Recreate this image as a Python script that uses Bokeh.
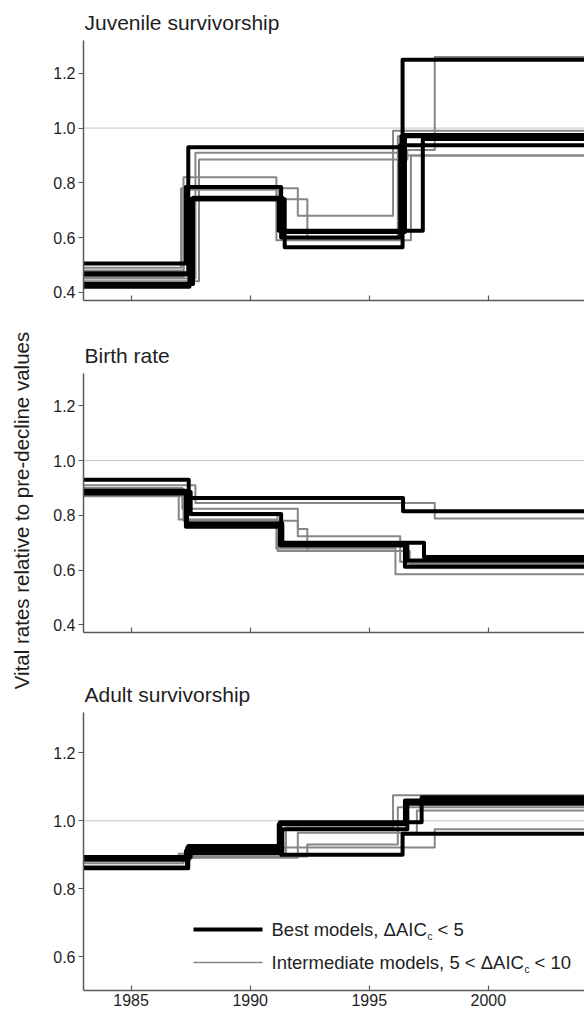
from bokeh.plotting import figure
from bokeh.layouts import column, row
from bokeh.models import Range1d, FixedTicker, PrintfTickFormatter, Span, Label, Arrow
from bokeh.embed import file_html
from bokeh.resources import INLINE

# ---------------- data ----------------
x_start = 1983.0
x_end = 2004.04
year_ticks = [1985, 1990, 1995, 2000]
panel_titles = ["Juvenile survivorship", "Birth rate", "Adult survivorship"]
y_label = "Vital rates relative to pre-decline values"
legend_best = ["Best models, \u0394AIC", "c", "< 5"]
legend_inter = ["Intermediate models, 5 < \u0394AIC", "c", "< 10"]

# Juvenile survivorship: change-point years and levels of each step model
juv_best_breaks = [[1987.45, 1991.45, 1996.4],
                   [1987.4, 1996.35],
                   [1987.3, 1991.3, 1996.3],
                   [1987.5, 1991.2, 1997.25],
                   [1987.6, 1991.35, 1996.5]]
juv_best_values = [[0.42, 0.74, 0.565, 1.25],
                   [0.465, 0.93, 0.97],
                   [0.505, 0.785, 0.60, 0.937],
                   [0.47, 0.74, 0.625, 0.96],
                   [0.43, 0.745, 0.62, 0.975]]
juv_int_breaks = [[1987.1, 1992.0, 1996.0],
                  [1987.7, 1996.5],
                  [1987.85, 1996.6, 1997.75],
                  [1987.2, 1991.1, 1996.75],
                  [1987.2, 1991.2, 1992.4, 1996.2]]
juv_int_values = [[0.49, 0.78, 0.68, 0.99],
                  [0.45, 0.91, 0.90],
                  [0.44, 0.885, 0.92, 1.26],
                  [0.48, 0.82, 0.59, 0.90],
                  [0.455, 0.775, 0.74, 0.595, 0.97]]

# Birth rate
birth_best_breaks = [[1987.42, 1996.42],
                     [1987.5, 1991.3, 1997.3],
                     [1987.3, 1991.25, 1996.5],
                     [1987.35, 1991.35, 1996.6]]
birth_best_values = [[0.93, 0.863, 0.815],
                     [0.885, 0.805, 0.70, 0.648],
                     [0.89, 0.758, 0.69, 0.612],
                     [0.88, 0.77, 0.695, 0.635]]
birth_int_breaks = [[1987.7, 1997.75],
                    [1987.15, 1992.0, 1996.3],
                    [1987.0, 1991.1, 1996.1],
                    [1987.2, 1992.0, 1992.4, 1996.5],
                    [1987.3, 1991.15, 1996.7]]
birth_int_values = [[0.91, 0.845, 0.788],
                    [0.90, 0.824, 0.724, 0.63],
                    [0.875, 0.785, 0.679, 0.585],
                    [0.895, 0.78, 0.75, 0.67, 0.625],
                    [0.87, 0.80, 0.67, 0.62]]

# Adult survivorship
adult_best_breaks = [[1987.4, 1991.25, 1997.2],
                     [1987.3, 1991.3, 1996.4],
                     [1987.35, 1991.2, 1996.5],
                     [1987.5, 1991.35, 1996.6]]
adult_best_values = [[0.86, 0.926, 0.996, 1.069],
                     [0.885, 0.911, 0.90, 0.962],
                     [0.862, 0.92, 0.99, 1.06],
                     [0.893, 0.905, 0.975, 1.05]]
adult_int_breaks = [[1987.0, 1991.5, 1996.0],
                    [1987.5, 1992.0, 1997.0],
                    [1987.6, 1991.2, 1997.75],
                    [1987.2, 1992.4, 1996.2]]
adult_int_values = [[0.894, 0.903, 0.98, 1.075],
                    [0.885, 0.891, 0.965, 1.03],
                    [0.89, 0.90, 0.921, 0.975],
                    [0.875, 0.895, 0.93, 1.04]]

y_ticks_upper = [0.4, 0.6, 0.8, 1.0, 1.2]
y_ticks_lower = [0.6, 0.8, 1.0, 1.2]
reference_level = 1.0

# ---------------- styling ----------------
FONT = "Liberation Sans, Arial, Helvetica, sans-serif"
TXT = "#1e1e1e"
AX = "#5a5a5a"
BLACK = "#000000"
GREY = "#868686"
LABEL_W = 36
WIDTH = 584 - LABEL_W
LEFT = 83 - LABEL_W
TOTAL_H = 1016


def make_panel(title, y_range, y_ticks, height, top, bottom, show_x_labels):
    p = figure(width=WIDTH, height=height, x_range=Range1d(x_start, x_end),
               y_range=Range1d(*y_range), output_backend="svg",
               toolbar_location=None, min_border_left=LEFT, min_border_right=0,
               min_border_top=top, min_border_bottom=bottom, title=title)
    p.outline_line_color = None
    p.background_fill_color = "white"
    p.border_fill_color = "white"
    p.xgrid.visible = False
    p.ygrid.visible = False
    p.title.text_font = FONT
    p.title.text_font_size = "21px"
    p.title.text_font_style = "normal"
    p.title.text_color = TXT
    p.title.align = "left"
    p.title.offset = 1
    p.title.standoff = 14

    p.yaxis.ticker = FixedTicker(ticks=y_ticks)
    p.yaxis.formatter = PrintfTickFormatter(format="%.1f")
    p.yaxis.major_tick_out = 5
    p.yaxis.major_tick_in = 0
    p.yaxis.minor_tick_line_color = None
    p.yaxis.major_label_standoff = 3
    p.yaxis.major_label_text_font = FONT
    p.yaxis.major_label_text_font_size = "16px"
    p.yaxis.major_label_text_color = TXT

    p.xaxis.ticker = FixedTicker(ticks=year_ticks)
    p.xaxis.formatter = PrintfTickFormatter(format="%d")
    p.xaxis.major_tick_in = 5
    p.xaxis.major_tick_out = 0
    p.xaxis.minor_tick_line_color = None
    p.xaxis.major_label_text_font = FONT
    if show_x_labels:
        p.xaxis.major_label_text_font_size = "16px"
        p.xaxis.major_label_text_color = TXT
        p.xaxis.major_label_standoff = 3
    else:
        p.xaxis.major_label_text_font_size = "1px"
        p.xaxis.major_label_text_color = None
        p.xaxis.major_label_standoff = 0

    for ax in (p.xaxis, p.yaxis):
        ax.axis_line_color = AX
        ax.axis_line_width = 1.5
        ax.major_tick_line_color = AX
        ax.major_tick_line_width = 1.2

    p.add_layout(Span(location=reference_level, dimension="width",
                      line_color="#c4c4c4", line_width=1, level="underlay"))
    return p


def draw_models(p, breaks_list, values_list, color, width):
    for br, vals in zip(breaks_list, values_list):
        xs = [x_start] + list(br) + [x_end + 1]
        ys = list(vals) + [vals[-1]]
        p.step(xs, ys, mode="after", line_color=color, line_width=width,
               line_join="round")


p1 = make_panel(panel_titles[0], (0.37, 1.32), y_ticks_upper, 305, 40, 5, False)
draw_models(p1, juv_int_breaks, juv_int_values, GREY, 2)
draw_models(p1, juv_best_breaks, juv_best_values, BLACK, 4)

p2 = make_panel(panel_titles[1], (0.372, 1.318), y_ticks_upper, 335, 68, 8, False)
draw_models(p2, birth_int_breaks, birth_int_values, GREY, 2)
draw_models(p2, birth_best_breaks, birth_best_values, BLACK, 4)

p3 = make_panel(panel_titles[2], (0.50, 1.319), y_ticks_lower, 376, 72, 26, True)
draw_models(p3, adult_int_breaks, adult_int_values, GREY, 2)
draw_models(p3, adult_best_breaks, adult_best_values, BLACK, 4)

# legend (screen units relative to the plot frame)
for color, lw, yy in [(BLACK, 4, 61), (GREY, 1.6, 28)]:
    p3.add_layout(Arrow(end=None, x_start=110, y_start=yy, x_end=179, y_end=yy,
                        start_units="screen", end_units="screen",
                        line_color=color, line_width=lw))
for parts, x_sub, x_tail, yy in [(legend_best, 344, 354, 61),
                                 (legend_inter, 441, 451, 28)]:
    p3.add_layout(Label(x=188, y=yy, x_units="screen", y_units="screen",
                        text=parts[0], text_font=FONT, text_font_size="18.5px",
                        text_color=TXT, text_baseline="middle"))
    p3.add_layout(Label(x=x_sub, y=yy - 7, x_units="screen", y_units="screen",
                        text=parts[1], text_font=FONT, text_font_size="10px",
                        text_color=TXT, text_baseline="middle"))
    p3.add_layout(Label(x=x_tail, y=yy, x_units="screen", y_units="screen",
                        text=parts[2], text_font=FONT, text_font_size="18.5px",
                        text_color=TXT, text_baseline="middle"))

# shared y-axis title in its own narrow strip
lab = figure(width=LABEL_W, height=TOTAL_H, x_range=Range1d(0, 1),
             y_range=Range1d(0, 1), output_backend="svg", toolbar_location=None,
             x_axis_location=None, y_axis_location=None, min_border=0)
lab.outline_line_color = None
lab.xgrid.visible = False
lab.ygrid.visible = False
lab.add_layout(Label(x=21, y=TOTAL_H - 510, x_units="screen", y_units="screen",
                     text=y_label, angle=90, angle_units="deg",
                     text_align="center", text_baseline="middle",
                     text_font=FONT, text_font_size="20.5px", text_color=TXT))

layout = row(lab, column(p1, p2, p3, spacing=0), spacing=0)
open("out.html", "w").write(file_html(layout, INLINE))
